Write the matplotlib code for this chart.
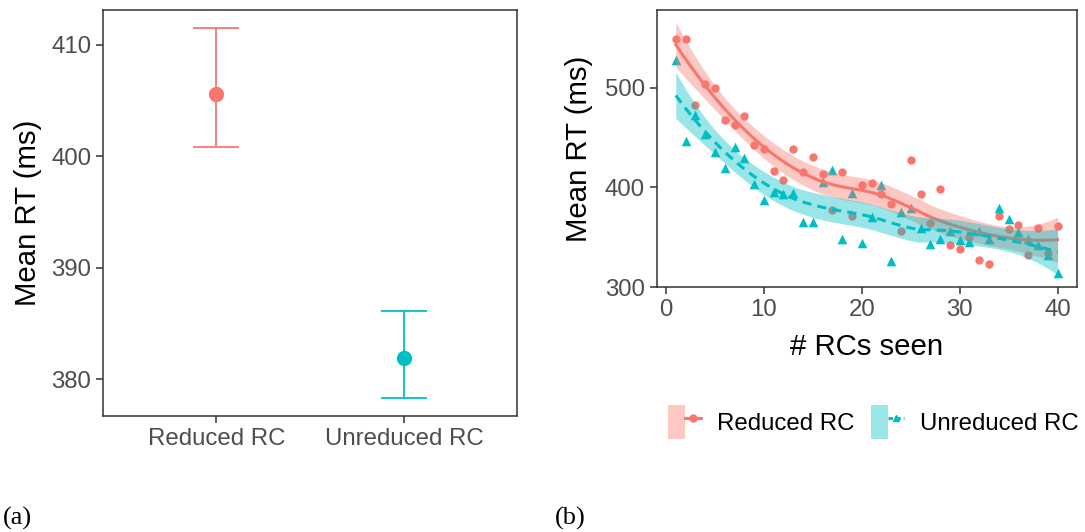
import matplotlib.pyplot as plt
import numpy as np
from matplotlib.patches import Patch
from matplotlib.lines import Line2D
from matplotlib.legend_handler import HandlerTuple

plt.rcParams['font.family'] = ['Liberation Sans', 'DejaVu Sans']

# panel (a): condition means with CIs
conditions = ['Reduced RC', 'Unreduced RC']
cond_means = [405.6, 381.9]
cond_lower = [400.8, 378.3]
cond_upper = [411.5, 386.1]

# panel (b): mean RT by number of RCs seen
rcs_seen = np.arange(1, 41)
rt_reduced = [549, 549, 483, 504, 500, 468, 463, 472, 443, 439,
              416, 407, 439, 415, 430, 413, 377, 415, 371, 402,
              404, 393, 383, 356, 427, 393, 364, 398, 342, 338,
              350, 327, 323, 371, 358, 362, 332, 359, 334, 361]
rt_unreduced = [528, 447, 473, 454, 435, 419, 441, 429, 403, 387,
                395, 393, 394, 365, 365, 405, 417, 348, 394, 344,
                370, 402, 326, 375, 379, 359, 343, 348, 356, 347,
                345, 356, 348, 379, 368, 355, 348, 342, 332, 314]

RED = '#F8766D'
TEAL = '#00BFC4'
DARK = '#333333'
TICKTXT = '#4D4D4D'


def loess_fit(x, y, xg, span=0.75):
    # local quadratic loess (like ggplot's geom_smooth default) with 95% band
    x = np.asarray(x, float)
    y = np.asarray(y, float)
    n = len(x)
    q = int(np.floor(n * span))

    def row(x0):
        d = np.abs(x - x0)
        h = np.sort(d)[q - 1]
        w = np.clip(1 - (d / h) ** 3, 0, None) ** 3
        X = np.column_stack([np.ones(n), x - x0, (x - x0) ** 2])
        W = X.T * w
        return np.linalg.solve(W @ X, W)[0]

    L = np.array([row(v) for v in x])
    Lg = np.array([row(v) for v in xg])
    R = np.eye(n) - L
    M = R.T @ R
    one_delta = np.trace(M)
    two_delta = np.trace(M @ M)
    sigma = np.sqrt(np.sum((R @ y) ** 2) / one_delta)
    df = one_delta ** 2 / two_delta
    z = 1.959964
    t = z + (z ** 3 + z) / (4 * df) + (5 * z ** 5 + 16 * z ** 3 + 3 * z) / (96 * df ** 2)
    fit = Lg @ y
    se = sigma * np.sqrt(np.sum(Lg ** 2, axis=1))
    return fit, fit - t * se, fit + t * se


def style(ax):
    for s in ax.spines.values():
        s.set_color(DARK)
        s.set_linewidth(1.1)
    ax.tick_params(length=5, width=1.1, color=DARK, labelsize=17.3,
                   labelcolor=TICKTXT, pad=3.5)


fig = plt.figure(figsize=(10.85, 5.32), dpi=100)

# ---- (a)
ax1 = fig.add_axes([103.3 / 1085, 1 - 416 / 532, 414 / 1085, 406 / 532])
pos = np.arange(1, len(conditions) + 1)
for i, c in enumerate([RED, TEAL]):
    ax1.errorbar(pos[i], cond_means[i],
                 yerr=[[cond_means[i] - cond_lower[i]], [cond_upper[i] - cond_means[i]]],
                 fmt='o', color=c, ms=10, elinewidth=1.3, capsize=16.5, capthick=1.3)
ax1.set_xlim(0.4, 2.6)
ax1.set_ylim(376.7, 413.14)
ax1.set_xticks(pos)
ax1.set_xticklabels(conditions)
ax1.set_yticks([380, 390, 400, 410])
ax1.set_ylabel('Mean RT (ms)', fontsize=21.2)
ax1.yaxis.set_label_coords(-0.149, 0.5)
style(ax1)

# ---- (b)
ax2 = fig.add_axes([656.7 / 1085, 1 - 287.3 / 532, 420 / 1085, 277.3 / 532])
ax2.scatter(rcs_seen, rt_reduced, s=36, marker='o', color=RED, linewidths=0, zorder=1)
ax2.scatter(rcs_seen, rt_unreduced, s=48, marker='^', color=TEAL, linewidths=0, zorder=1)

xg = np.linspace(1, 40, 80)
handles = []
for ys, c, ls, mk in [(rt_reduced, RED, '-', 'o'), (rt_unreduced, TEAL, '--', '^')]:
    fit, lo, hi = loess_fit(rcs_seen, ys, xg)
    ax2.fill_between(xg, lo, hi, color=c, alpha=0.4, linewidth=0, zorder=2)
    ln, = ax2.plot(xg, fit, color=c, lw=2.2, ls=ls, zorder=2)
    if ls == '--':
        ln.set_dashes((3, 2))
    key_line = Line2D([], [], color=c, lw=2.2, ls=ls, marker=mk, ms=5)
    if ls == '--':
        key_line.set_dashes((1.5, 1))
    handles.append((Patch(facecolor=c, alpha=0.4, linewidth=0), key_line))

ax2.set_xlim(-0.95, 41.95)
ax2.set_ylim(300, 577.7)
ax2.set_xticks([0, 10, 20, 30, 40])
ax2.set_yticks([300, 400, 500])
ax2.set_xlabel('# RCs seen', fontsize=21.2)
ax2.set_ylabel('Mean RT (ms)', fontsize=21.2)
ax2.xaxis.set_label_coords(0.5, -0.165)
ax2.yaxis.set_label_coords(-0.151, 0.5)
style(ax2)

fig.legend(handles, ['Reduced RC', 'Unreduced RC'],
           handler_map={tuple: HandlerTuple(ndivide=None, pad=0)},
           loc='center', bbox_to_anchor=(873.5 / 1085, 1 - 422 / 532),
           ncol=2, frameon=False, fontsize=17.3, handlelength=1.37,
           handleheight=1.75, handletextpad=0.67, columnspacing=0.7)

fig.text(17 / 1085, 1 - 518 / 532, '(a)', family='Liberation Serif',
         fontsize=19, ha='center', va='center')
fig.text(570 / 1085, 1 - 518 / 532, '(b)', family='Liberation Serif',
         fontsize=19, ha='center', va='center')

fig.savefig('out.png', dpi=100)
